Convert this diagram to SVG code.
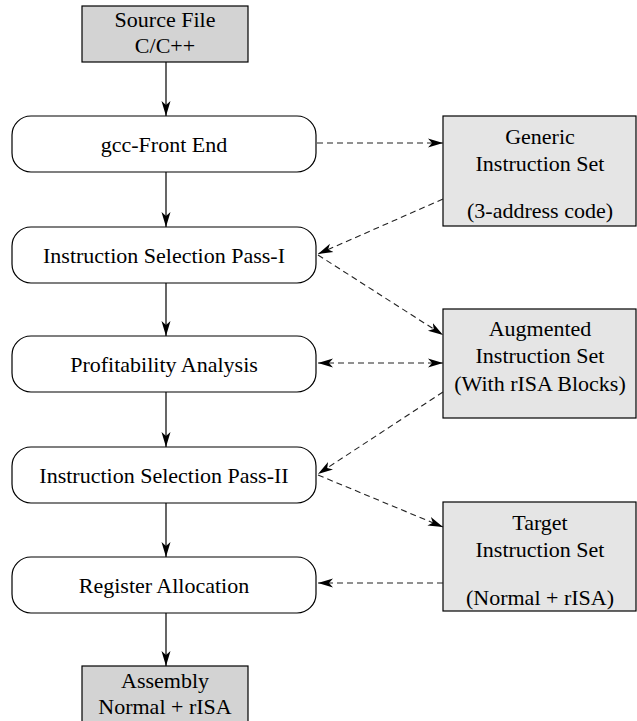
<svg xmlns="http://www.w3.org/2000/svg" width="637" height="721" viewBox="0 0 637 721">
<style>
text{font-family:"Liberation Serif","Times New Roman",serif;font-size:22px;fill:#000;text-anchor:middle}
.step{fill:#fff;stroke:#000;stroke-width:1.2}
.io{fill:#d3d3d3;stroke:#000;stroke-width:1.2}
.set{fill:#e5e5e5;stroke:#000;stroke-width:1.2}
.solid{stroke:#000;stroke-width:1.2;fill:none;marker-end:url(#ah)}
.dash{stroke:#222;stroke-width:1.1;fill:none;stroke-dasharray:6 4;marker-end:url(#ah)}
</style>
<defs>
<marker id="ah" markerUnits="userSpaceOnUse" markerWidth="20" markerHeight="12" refX="15" refY="5" orient="auto-start-reverse" viewBox="0 0 20 12">
<path d="M15,5 L0,0.5 L4,5 L0,9.5 Z" fill="#000"/>
</marker>
</defs>
<g id="source"><rect class="io" x="82" y="6" width="166" height="56"/><text x="165" y="27">Source File</text><text x="165" y="53">C/C++</text></g>
<g id="frontend"><rect class="step" x="12" y="116" width="304" height="56" rx="19"/><text x="164" y="152">gcc-Front End</text></g>
<g id="pass1"><rect class="step" x="12" y="227" width="304" height="56" rx="19"/><text x="164" y="263">Instruction Selection Pass-I</text></g>
<g id="profit"><rect class="step" x="12" y="336" width="304" height="56" rx="19"/><text x="164" y="372">Profitability Analysis</text></g>
<g id="pass2"><rect class="step" x="12" y="447" width="304" height="56" rx="19"/><text x="164" y="483">Instruction Selection Pass-II</text></g>
<g id="regalloc"><rect class="step" x="12" y="557" width="304" height="56" rx="19"/><text x="164" y="593">Register Allocation</text></g>
<g id="assembly"><rect class="io" x="82" y="666" width="166" height="70"/><text x="165" y="688">Assembly</text><text x="165" y="714">Normal + rISA</text></g>
<g id="generic"><rect class="set" x="443" y="116" width="193" height="110"/><text x="540" y="144">Generic</text><text x="540" y="171">Instruction Set</text><text x="540" y="218">(3-address code)</text></g>
<g id="augmented"><rect class="set" x="443" y="309" width="193" height="109"/><text x="540" y="336">Augmented</text><text x="540" y="363">Instruction Set</text><text x="540" y="391">(With rISA Blocks)</text></g>
<g id="target"><rect class="set" x="443" y="502" width="193" height="109"/><text x="540" y="530">Target</text><text x="540" y="557">Instruction Set</text><text x="540" y="605">(Normal + rISA)</text></g>
<g id="connectors">
<line class="solid" x1="166" y1="62" x2="166" y2="116"/>
<line class="solid" x1="166" y1="172" x2="166" y2="227"/>
<line class="solid" x1="166" y1="283" x2="166" y2="336"/>
<line class="solid" x1="166" y1="392" x2="166" y2="447"/>
<line class="solid" x1="166" y1="503" x2="166" y2="557"/>
<line class="solid" x1="166" y1="613" x2="166" y2="666"/>
<line class="dash" x1="317" y1="143" x2="443" y2="143"/>
<line class="dash" x1="443" y1="199" x2="318" y2="254"/>
<line class="dash" x1="318" y1="255" x2="443" y2="335"/>
<line class="dash" x1="318" y1="363" x2="443" y2="363" style="marker-start:url(#ah)"/>
<line class="dash" x1="443" y1="392" x2="318" y2="474"/>
<line class="dash" x1="318" y1="475" x2="443" y2="527"/>
<line class="dash" x1="443" y1="583" x2="318" y2="583"/>
</g>
</svg>
